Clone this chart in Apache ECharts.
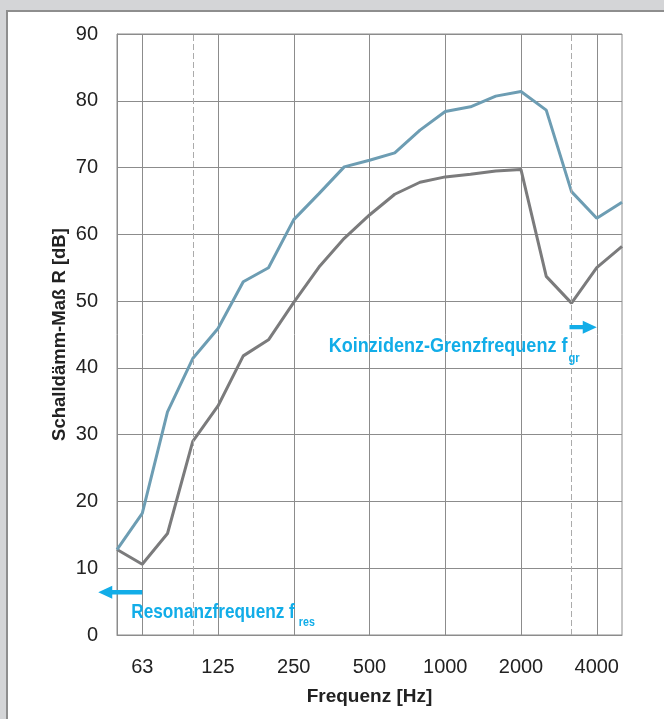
<!DOCTYPE html>
<html><head><meta charset="utf-8">
<script src="https://cdn.jsdelivr.net/npm/echarts@6/dist/echarts.min.js"></script>
<style>
html,body{margin:0;padding:0;background:#d4d5d7;width:664px;height:719px;overflow:hidden}
#bg{position:absolute;left:6px;top:10px;right:0;bottom:0;background:#fff;border-left:2px solid #8e8e8e;border-top:2px solid #8e8e8e}
#chart{position:absolute;left:0;top:0;width:664px;height:719px}
</style></head>
<body><div id="bg"></div><div id="chart"></div>
<script>
const freqs = ['50','63','80','100','125','160','200','250','315','400','500','630','800','1000','1250','1600','2000','2500','3150','4000','5000'];
const labeledFreqs = ['63','125','250','500','1000','2000','4000'];
const dashedFreqs = ['100','3150'];
const blueValues = [12.8,18.2,33.4,41.4,45.9,52.9,55.0,62.2,66.1,70.1,71.1,72.2,75.6,78.4,79.1,80.7,81.4,78.6,66.4,62.4,64.8];
const grayValues = [12.8,10.6,15.2,29.0,34.3,41.8,44.2,49.8,55.1,59.4,62.9,66.0,67.8,68.6,69.0,69.5,69.7,53.7,49.7,55.0,58.2];
const yMin = 0, yMax = 90, yStep = 10;
const yAxisTitle = 'Schalldämm-Maß R [dB]';
const xAxisTitle = 'Frequenz [Hz]';
const resText = 'Resonanzfrequenz f', resSub = 'res';
const grText = 'Koinzidenz-Grenzfrequenz f', grSub = 'gr';

const FONT = "'Liberation Sans','Arial',sans-serif";
const BLUE_TXT = '#12ade8';
const GRID = '#8c8c8c';

const chart = echarts.init(document.getElementById('chart'), null, {renderer:'canvas'});

chart.setOption({
  animation: false,
  backgroundColor: 'transparent',
  grid: {left:117, right:42, top:34, bottom:84, show:true, borderColor:GRID, borderWidth:1,
         backgroundColor:'transparent', containLabel:false, outerBoundsMode:'none'},
  xAxis: {
    type:'category', data:freqs, boundaryGap:false,
    name:xAxisTitle, nameLocation:'middle', nameGap:52, nameMoveOverlap:false,
    nameTextStyle:{fontFamily:FONT, fontWeight:'bold', fontSize:19, color:'#222'},
    axisLine:{show:true, lineStyle:{color:GRID, width:1}},
    axisTick:{show:false},
    axisLabel:{interval:(i,v)=>labeledFreqs.indexOf(v)>=0, margin:22, fontFamily:FONT, fontSize:20, color:'#222'},
    splitLine:{show:true, interval:(i,v)=>labeledFreqs.indexOf(v)>=0, lineStyle:{color:GRID, width:1}}
  },
  yAxis: {
    type:'value', min:yMin, max:yMax, interval:yStep,
    name:yAxisTitle, nameLocation:'middle', nameGap:48, nameRotate:90, nameMoveOverlap:false,
    nameTextStyle:{fontFamily:FONT, fontWeight:'bold', fontSize:18.5, color:'#222'},
    axisLine:{show:true, lineStyle:{color:GRID, width:1}},
    axisTick:{show:false},
    axisLabel:{margin:19, fontFamily:FONT, fontSize:20, color:'#222'},
    splitLine:{show:true, lineStyle:{color:GRID, width:1}}
  },
  series: [
    {type:'line', data:grayValues, symbol:'none', lineStyle:{color:'#7b7b7c', width:3}, z:3,
     markLine:{silent:true, symbol:'none', label:{show:false}, lineStyle:{type:[6,3], color:'#ababab', width:1},
       data: dashedFreqs.map(f=>({xAxis:f}))}},
    {type:'line', data:blueValues, symbol:'none', lineStyle:{color:'#6d9db3', width:3}, z:4}
  ]
});

// annotations anchored on axes
function px(cat, val){ return chart.convertToPixel({gridIndex:0}, [cat, val]); }
const ctx = document.createElement('canvas').getContext('2d');
function tw(t, f){ ctx.font = f; return ctx.measureText(t).width; }
const mainFont = 'bold 21px ' + FONT, subFont = 'bold 13px ' + FONT;
const SX_RES = 0.82, SX_GR = 0.86;

function arrow(x0, x1, y){ // from x0 to tip at x1
  const dir = Math.sign(x1 - x0), headLen = 14, half = 2.2, headHalf = 6.5;
  const xb = x1 - dir*headLen;
  return {type:'polygon', silent:true, z:10, shape:{points:[
    [x0, y-half],[xb, y-half],[xb, y-headHalf],[x1, y],[xb, y+headHalf],[xb, y+half],[x0, y+half]]},
    style:{fill:BLUE_TXT}};
}
function txt(t, x, y, font, align, sx){
  return {type:'text', silent:true, z:10, x:x, y:y, scaleX:sx, scaleY:1,
    style:{text:t, x:0, y:0, font:font, fill:BLUE_TXT, align:align, verticalAlign:'middle'}};
}
const p63 = px('63', 6.4), p3150 = px('3150', 46.1), p4000 = px('4000', 46.1);
const pRes = px('63', 3.4), pGr = px('3150', 43.2);
const resX = pRes[0] - 11;
const resW = tw(resText, mainFont) * SX_RES;
const grRight = pGr[0] - 4;
chart.setOption({graphic:[
  arrow(p63[0], p63[0]-44, p63[1]),
  arrow(p3150[0]-2, p4000[0], p3150[1]),
  txt(resText, resX, pRes[1], mainFont, 'left', SX_RES),
  txt(resSub, resX + resW + 4, pRes[1] + 10, subFont, 'left', SX_RES),
  txt(grText, grRight, pGr[1], mainFont, 'right', SX_GR),
  txt(grSub, grRight + 1, pGr[1] + 12, subFont, 'left', SX_GR)
]});
</script>
</body></html>
